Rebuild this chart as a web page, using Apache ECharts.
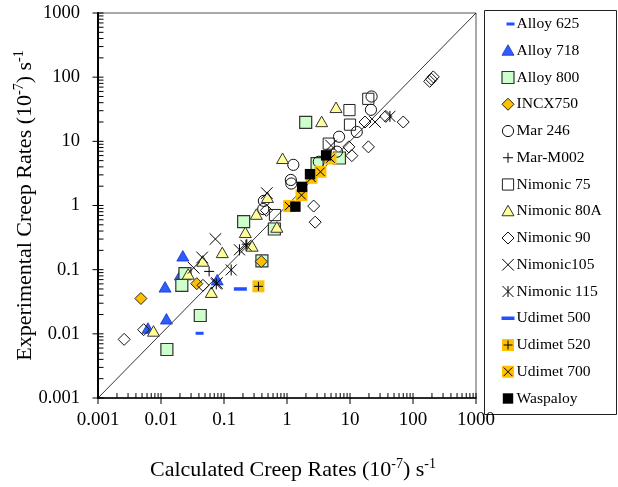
<!DOCTYPE html>
<html>
<head>
<meta charset="utf-8">
<script src="https://cdn.jsdelivr.net/npm/echarts@6/dist/echarts.min.js"></script>
<style>
html,body{margin:0;padding:0;background:#fff;}
#chart{width:618px;height:487px;}
</style>
</head>
<body>
<div id="chart"></div>
<script>
// Log axis decades and their printed labels
const tickValues = [0.001, 0.01, 0.1, 1, 10, 100, 1000];
const tickLabels = ['0.001', '0.01', '0.1', '1', '10', '100', '1000'];

// [calculated, experimental] creep rates, units of 1e-7 s^-1
const alloy625 = [[0.041, 0.0102]];
const alloy718 = [[0.0222, 0.16], [0.0203, 0.081], [0.0116, 0.0525], [0.0122, 0.0167], [0.0062, 0.012], [0.078, 0.068]];
const alloy800 = [[1.98, 19.7], [0.205, 0.56], [0.63, 0.43], [0.4, 0.137], [0.024, 0.087], [0.0214, 0.057], [0.042, 0.0193], [0.0124, 0.0057], [3.0, 4.5], [6.8, 5.5]];
const incx750 = [[0.0048, 0.0355], [0.037, 0.0605], [0.39, 0.134]];
const mar246 = [[22, 50], [21.5, 31], [12.8, 14], [6.7, 11.8], [6.2, 6.9], [3.2, 4.8], [1.26, 4.3], [1.15, 2.5], [1.17, 2.2], [0.43, 1.18], [0.42, 0.88]];
const marM002 = [[0.058, 0.094], [0.23, 0.25]];
const nimonic75 = [[19.5, 46], [9.8, 30.7], [10, 18.2], [4.6, 9.2], [0.645, 0.71]];
const nimonic80A = [[6.0, 33], [3.55, 19.9], [0.85, 5.3], [0.49, 1.31], [0.326, 0.716], [0.69, 0.45], [0.218, 0.372], [0.28, 0.228], [0.094, 0.181], [0.046, 0.133], [0.027, 0.0836], [0.063, 0.0434], [0.0076, 0.0108]];
const nimonic90 = [[210, 101], [196, 93], [184, 86], [70, 20], [37, 24.5], [17.3, 20], [19.6, 8.2], [9.6, 8.2], [10.7, 5.98], [2.65, 0.98], [2.8, 0.55], [0.0464, 0.057], [0.0053, 0.0116], [0.0026, 0.0082], [0.47, 0.84]];
const nimonic105 = [[0.073, 0.3], [0.045, 0.155], [0.033, 0.107], [0.077, 0.062], [0.478, 1.56], [25, 20], [5.0, 8.6]];
const nimonic115 = [[0.176, 0.204], [0.13, 0.099], [0.0755, 0.06], [0.223, 0.24], [43, 24.5]];
const udimet500 = [[0.182, 0.05]];
const udimet520 = [[0.352, 0.055]];
const udimet700 = [[1.08, 0.98], [1.7, 1.45], [2.45, 2.7], [3.4, 3.35], [4.9, 5.4]];
const waspaloy = [[1.36, 0.96], [1.74, 1.95], [2.32, 3.08], [4.18, 6.05]];

const FONT = '"Liberation Serif", "Times New Roman", serif';
const ORANGE = '#ffc000';
const BLUE = '#2350ff';
const GRID = {left: 98, top: 13, width: 378, height: 385};

// Marker glyphs shared by the plot and the key
function markerEls(kind, x, y) {
  const ln = (x1, y1, x2, y2, w) => ({type: 'line', shape: {x1, y1, x2, y2}, style: {stroke: '#000', lineWidth: w || 1}});
  const cross = (h) => [ln(x - h, y - h, x + h, y + h), ln(x - h, y + h, x + h, y - h)];
  const plus = (h) => [ln(x - h, y, x + h, y), ln(x, y - h, x, y + h)];
  switch (kind) {
    case 'dashS':
      return [{type: 'rect', shape: {x: x - 4, y: y - 1.5, width: 8, height: 3}, style: {fill: BLUE}}];
    case 'dashL':
      return [{type: 'rect', shape: {x: x - 6.5, y: y - 1.75, width: 13, height: 3.5}, style: {fill: BLUE}}];
    case 'triBlue':
      return [{type: 'polygon', shape: {points: [[x, y - 6], [x + 6, y + 4.5], [x - 6, y + 4.5]]}, style: {fill: '#2f5cff', stroke: '#1533c8', lineWidth: 0.8}}];
    case 'sqGreen':
      return [{type: 'rect', shape: {x: x - 6, y: y - 6, width: 12, height: 12}, style: {fill: '#ccffcc', stroke: '#333', lineWidth: 1.2}}];
    case 'diaOrange':
      return [{type: 'polygon', shape: {points: [[x, y - 6], [x + 6, y], [x, y + 6], [x - 6, y]]}, style: {fill: ORANGE, stroke: '#222', lineWidth: 1}}];
    case 'circle':
      return [{type: 'circle', shape: {cx: x, cy: y, r: 5.6}, style: {fill: 'none', stroke: '#111', lineWidth: 1}}];
    case 'plus':
      return plus(5);
    case 'sqOpen':
      return [{type: 'rect', shape: {x: x - 5.6, y: y - 5.6, width: 11.2, height: 11.2}, style: {fill: 'none', stroke: '#222', lineWidth: 1}}];
    case 'triYellow':
      return [{type: 'polygon', shape: {points: [[x, y - 6], [x + 6, y + 4.5], [x - 6, y + 4.5]]}, style: {fill: '#ffff99', stroke: '#333', lineWidth: 1}}];
    case 'diaOpen':
      return [{type: 'polygon', shape: {points: [[x, y - 6], [x + 6, y], [x, y + 6], [x - 6, y]]}, style: {fill: 'none', stroke: '#111', lineWidth: 1}}];
    case 'cross':
      return cross(5.8);
    case 'star':
      return cross(5.5).concat([ln(x, y - 5.5, x, y + 5.5)]);
    case 'sqPlus':
      return [{type: 'rect', shape: {x: x - 6, y: y - 6, width: 12, height: 12}, style: {fill: ORANGE}}].concat(plus(4.5));
    case 'sqCross':
      return [{type: 'rect', shape: {x: x - 6, y: y - 6, width: 12, height: 12}, style: {fill: ORANGE}}].concat(cross(4.2));
    case 'sqBlack':
      return [{type: 'rect', shape: {x: x - 5.2, y: y - 5.2, width: 10.4, height: 10.4}, style: {fill: '#000'}}];
  }
  return [];
}

const groups = [
  {name: 'Alloy 625', kind: 'dashS', data: alloy625},
  {name: 'Alloy 718', kind: 'triBlue', data: alloy718},
  {name: 'Alloy 800', kind: 'sqGreen', data: alloy800},
  {name: 'INCX750', kind: 'diaOrange', data: incx750},
  {name: 'Mar 246', kind: 'circle', data: mar246},
  {name: 'Mar-M002', kind: 'plus', data: marM002},
  {name: 'Nimonic 75', kind: 'sqOpen', data: nimonic75},
  {name: 'Nimonic 80A', kind: 'triYellow', data: nimonic80A},
  {name: 'Nimonic 90', kind: 'diaOpen', data: nimonic90},
  {name: 'Nimonic105', kind: 'cross', data: nimonic105},
  {name: 'Nimonic 115', kind: 'star', data: nimonic115},
  {name: 'Udimet 500', kind: 'dashL', data: udimet500},
  {name: 'Udimet 520', kind: 'sqPlus', data: udimet520},
  {name: 'Udimet 700', kind: 'sqCross', data: udimet700},
  {name: 'Waspaloy', kind: 'sqBlack', data: waspaloy}
];

// Tick positions: majors at decades, minors at 2..9 within each decade
const lo = tickValues[0];
const hi = tickValues[tickValues.length - 1];
const minorValues = [];
tickValues.slice(0, -1).forEach(d => {
  for (let m = 2; m <= 9; m++) minorValues.push(d * m);
});

const series = [
  {
    type: 'line',
    data: [[lo, lo], [hi, hi]],
    showSymbol: false,
    symbol: 'none',
    lineStyle: {color: '#000', width: 0.8},
    z: 1,
    silent: true
  }
];

groups.forEach(g => {
  series.push({
    type: 'custom',
    name: g.name,
    data: g.data,
    encode: {x: 0, y: 1},
    clip: false,
    z: 3,
    renderItem: (params, api) => {
      const p = api.coord([api.value(0), api.value(1)]);
      return {type: 'group', children: markerEls(g.kind, p[0], p[1])};
    }
  });
});

// Key box on the right
const keyEls = [{
  type: 'rect',
  shape: {x: 484.5, y: 10.5, width: 132, height: 404},
  style: {fill: '#fff', stroke: '#222', lineWidth: 1}
}];
groups.forEach((g, i) => {
  const cy = 24 + i * 26.75;
  markerEls(g.kind, g.kind === 'dashS' ? 510.5 : 508, cy).forEach(e => keyEls.push(e));
  keyEls.push({
    type: 'text',
    style: {x: 516.5, y: cy, text: g.name, fill: '#000', font: '15.6px ' + FONT, align: 'left', verticalAlign: 'middle', textAlign: 'left', textVerticalAlign: 'middle'}
  });
});

const axisRich = {
  t: {fontFamily: FONT, fontSize: 22, color: '#000', lineHeight: 26},
  s: {fontFamily: FONT, fontSize: 14, color: '#000', verticalAlign: 'top', lineHeight: 16}
};

const labelFor = v => {
  const k = Math.round(Math.log10(v / lo));
  return tickLabels[k] !== undefined ? tickLabels[k] : '';
};

const chart = echarts.init(document.getElementById('chart'), null, {renderer: 'canvas'});
chart.setOption({
  animation: false,
  backgroundColor: '#fff',
  grid: Object.assign({show: true, backgroundColor: 'transparent', borderColor: '#555', borderWidth: 1, containLabel: false, outerBoundsMode: 'none'}, GRID),
  xAxis: {
    type: 'log', logBase: 10, min: lo, max: hi,
    axisLine: {lineStyle: {color: '#000', width: 1.5}},
    axisTick: {show: false}, minorTick: {show: false}, splitLine: {show: false},
    axisLabel: {fontFamily: FONT, fontSize: 19, color: '#000', margin: 13, formatter: labelFor},
    name: '{t|Calculated Creep Rates (10}{s|-7}{t|) s}{s|-1}',
    nameLocation: 'middle', nameGap: 59, nameMoveOverlap: false,
    nameTextStyle: {rich: axisRich, padding: [0, 0, 0, 12]}
  },
  yAxis: {
    type: 'log', logBase: 10, min: lo, max: hi,
    axisLine: {lineStyle: {color: '#000', width: 2}},
    axisTick: {show: false}, minorTick: {show: false}, splitLine: {show: false},
    axisLabel: {fontFamily: FONT, fontSize: 18.5, color: '#000', margin: 18, formatter: labelFor},
    name: '{t|Experimental Creep Rates (10}{s|-7}{t|) s}{s|-1}',
    nameLocation: 'middle', nameGap: 60, nameMoveOverlap: false,
    nameTextStyle: {rich: axisRich}
  },
  series: series
});

// Tick marks placed along the axes through their own scales:
// majors cross the axis line, minors sit inside the plot
const axisX = GRID.left;
const axisY = GRID.top + GRID.height;
const tickEls = [];
const addTick = (v, major) => {
  const px = chart.convertToPixel({xAxisIndex: 0}, v);
  const py = chart.convertToPixel({yAxisIndex: 0}, v);
  tickEls.push({type: 'line', z: 100, shape: {x1: px, y1: axisY - 5, x2: px, y2: axisY + (major ? 6 : 0)}, style: {stroke: '#000', lineWidth: 1}});
  tickEls.push({type: 'line', z: 100, shape: {x1: axisX - (major ? 5.5 : 0), y1: py, x2: axisX + 5.5, y2: py}, style: {stroke: '#000', lineWidth: 1}});
};
tickValues.forEach(v => addTick(v, true));
minorValues.forEach(v => addTick(v, false));

chart.setOption({graphic: keyEls.concat(tickEls)});
</script>
</body>
</html>
